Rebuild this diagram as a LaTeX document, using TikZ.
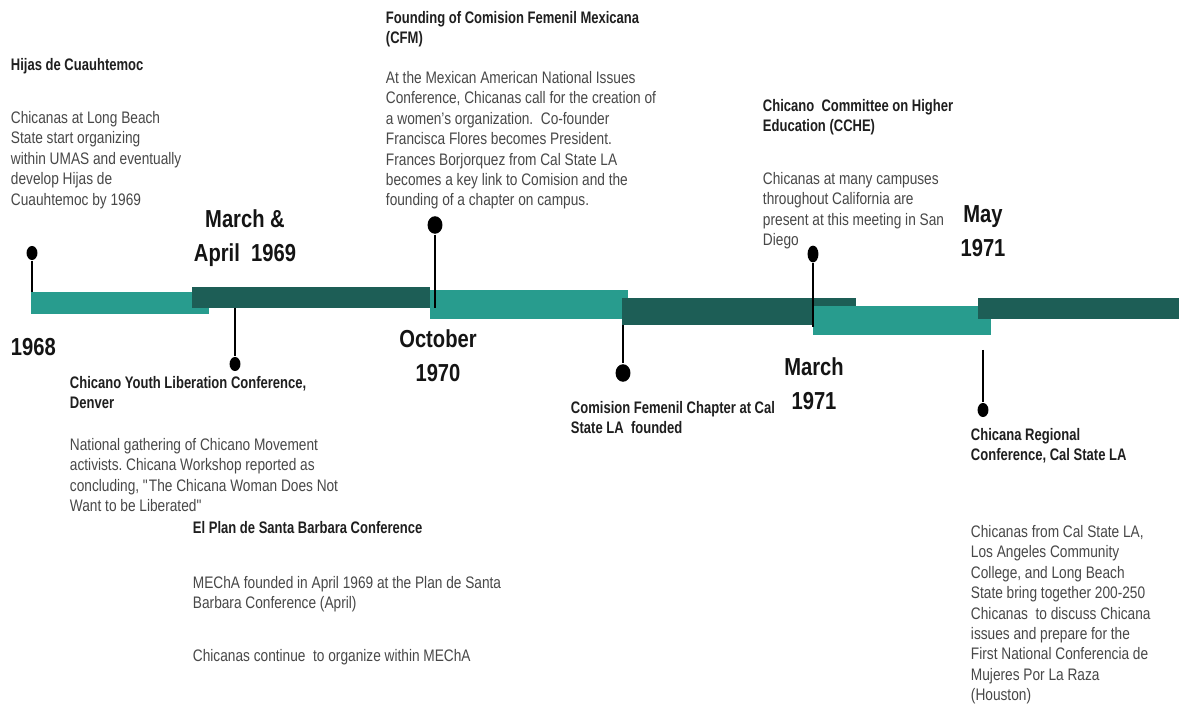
\documentclass[tikz,border=0pt]{standalone}
\usepackage{fontspec}
\setmainfont[FakeStretch=0.82,BoldFeatures={FakeStretch=0.78}]{Liberation Sans}
\newfontfamily\datefont[FakeStretch=0.82]{Liberation Sans}
\usepackage{tikz}
\usetikzlibrary{shapes, positioning}
\frenchspacing

\definecolor{lightteal}{RGB}{40,156,142}
\definecolor{darkteal}{RGB}{29,94,86}
\definecolor{bodygray}{RGB}{72,72,72}

\begin{document}
\begin{tikzpicture}[x=0.02cm,y=-0.02cm,inner sep=0pt,line width=1.1pt]
	\tikzset{pindot/.style={ellipse,fill=black,minimum width=6.2pt,minimum height=8pt}}
	\tikzset{bigdot/.style={pindot,minimum width=8.5pt,minimum height=10pt}}
	\tikzset{datelabel/.style={font=\fontsize{14}{19.4}\selectfont\datefont\bfseries,align=center,text=black!92}}
	\tikzset{blurb/.style={anchor=north west,align=left,font=\fontsize{9.5}{11.66}\selectfont,text=bodygray}}
	\tikzset{heading/.style={blurb,font=\fontsize{9.5}{11.66}\selectfont\bfseries,text=black!88}}
	\useasboundingbox (0,0) rectangle (1179,705);
	\fill[white] (0,0) rectangle (1179,705);
	\fill[lightteal] (31,292) rectangle (209,314);
	\fill[darkteal] (192,287) rectangle (430,308);
	\fill[lightteal] (430,290) rectangle (628,319);
	\fill[darkteal] (622,298) rectangle (856,325);
	\fill[lightteal] (813,306) rectangle (991,335);
	\fill[darkteal] (978,298) rectangle (1179,319);
	\node[pindot] (d1) at (32,253) {};
	\node[pindot] (d2) at (235,364) {};
	\node[bigdot] (d3) at (435,225) {};
	\node[bigdot] (d4) at (623,373) {};
	\node[pindot,minimum height=9.5pt] (d5) at (813,254) {};
	\node[pindot] (d6) at (983,410) {};
	\coordinate (b1) at (32,292);
	\coordinate (b2) at (235,308);
	\coordinate (b3) at (435,308);
	\coordinate (b4) at (623,325);
	\coordinate (b5) at (813,327);
	\coordinate (b6) at (983,350);
	\path
		(d1)
			edge (b1)
		(b2)
			edge (d2)
		(d3)
			edge (b3)
		(b4)
			edge (d4)
		(d5)
			edge (b5)
		(b6)
			edge (d6);
	\node[datelabel,anchor=west] (y1968) at (10,347) {1968};
	\node[datelabel] (y1969) at (245,238) {March \&\\April~~1969};
	\node[datelabel] (y1970) at (438,356) {October\\1970};
	\node[datelabel] (y1971a) at (814,384) {March\\1971};
	\node[datelabel] (y1971b) at (983,231) {May\\1971};
	\node[heading] (hijas) at (10,57) {Hijas de Cuauhtemoc};
	\node[blurb] (hijastext) at (10,110) {Chicanas at Long Beach\\State start organizing\\within UMAS and eventually\\develop Hijas de\\Cuauhtemoc by 1969};
	\node[heading] (cfm) at (385,10) {Founding of Comision Femenil Mexicana\\(CFM)};
	\node[blurb] (cfmtext) at (385,70) {At the Mexican American National Issues\\Conference, Chicanas call for the creation of\\a women's organization.~~Co-founder\\Francisca Flores becomes President.\\Frances Borjorquez from Cal State LA\\becomes a key link to Comision and the\\founding of a chapter on campus.};
	\node[heading] (cche) at (762,98) {Chicano~~Committee on Higher\\Education (CCHE)};
	\node[blurb] (cchetext) at (762,171) {Chicanas at many campuses\\throughout California are\\present at this meeting in San\\Diego};
	\node[heading] (denver) at (69,375) {Chicano Youth Liberation Conference,\\Denver};
	\node[blurb] (denvertext) at (69,437) {National gathering of Chicano Movement\\activists. Chicana Workshop reported as\\concluding, \textquotedbl The Chicana Woman Does Not\\Want to be Liberated\textquotedbl};
	\node[heading] (plan) at (192,520) {El Plan de Santa Barbara Conference};
	\node[blurb] (plantext) at (192,575) {MEChA founded in April 1969 at the Plan de Santa\\Barbara Conference (April)};
	\node[blurb] (plantext2) at (192,648) {Chicanas continue~~to organize within MEChA};
	\node[heading] (chapter) at (570,400) {Comision Femenil Chapter at Cal\\State LA~~founded};
	\node[heading] (regional) at (970,427) {Chicana Regional\\Conference, Cal State LA};
	\node[blurb] (regionaltext) at (970,524) {Chicanas from Cal State LA,\\Los Angeles Community\\College, and Long Beach\\State bring together 200-250\\Chicanas~~to discuss Chicana\\issues and prepare for the\\First National Conferencia de\\Mujeres Por La Raza\\(Houston)};
\end{tikzpicture}
\end{document}
